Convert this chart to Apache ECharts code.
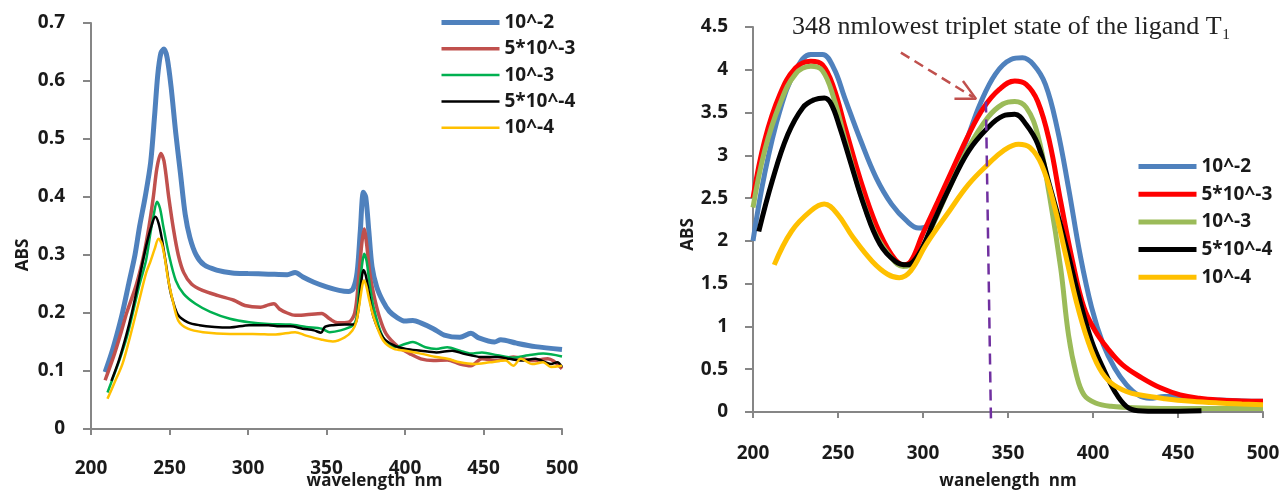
<!DOCTYPE html>
<html>
<head>
<meta charset="utf-8">
<script src="https://cdn.jsdelivr.net/npm/echarts@6/dist/echarts.min.js"></script>
<style>
  html, body { margin: 0; padding: 0; background: #ffffff; }
  #chart { width: 1284px; height: 491px; }
</style>
</head>
<body>
<div id="chart"></div>
<script>
// Concentration series names (shared by both panels)
const seriesNames = ['10^-2', '5*10^-3', '10^-3', '5*10^-4', '10^-4'];

// Wavelength axis range and tick step (nm)
const xMin = 200, xMax = 500, xStep = 50;
// ABS axis ranges
const leftYMax = 0.7, leftYStep = 0.1;
const rightYMax = 4.5, rightYStep = 0.5;

// Left panel: absorption spectra, [wavelength nm, ABS]
const leftA = [[209,0.098],[213,0.13],[216.6,0.164],[220,0.2],[224,0.25],[228,0.3],[231,0.35],[234.5,0.4],[238,0.46],[240.5,0.54],[242.5,0.61],[244.5,0.648],[246.5,0.655],[248.5,0.64],[251,0.59],[254,0.51],[257,0.44],[260,0.37],[263,0.33],[267,0.3],[272,0.283],[280,0.274],[290,0.269],[300,0.268],[313,0.267],[325,0.266],[330,0.27],[335,0.262],[342,0.253],[350,0.245],[358,0.239],[364,0.237],[367,0.242],[369.5,0.27],[371.5,0.34],[373.5,0.408],[375,0.4],[377,0.34],[379,0.28],[382,0.245],[386,0.22],[390,0.203],[395,0.192],[400,0.186],[405,0.187],[410,0.183],[418,0.173],[425,0.162],[435,0.158],[442,0.165],[447,0.157],[457,0.15],[461,0.154],[471,0.148],[483,0.142],[500,0.137]];
const leftB = [[209,0.084],[215,0.13],[219,0.165],[222.7,0.2],[229,0.25],[233.6,0.3],[237,0.35],[239.7,0.4],[242,0.45],[244.5,0.475],[246.5,0.462],[249.5,0.4],[252.5,0.345],[255.6,0.3],[259,0.27],[264,0.25],[271,0.239],[281,0.23],[291,0.222],[298,0.213],[308,0.21],[313,0.214],[316.5,0.216],[320,0.207],[325,0.2],[330,0.196],[337,0.197],[347,0.199],[352,0.19],[357,0.183],[364,0.184],[368,0.2],[370.5,0.26],[372.5,0.32],[374,0.345],[375.5,0.32],[377.5,0.27],[380,0.233],[383.5,0.195],[388,0.164],[396,0.141],[403,0.13],[410,0.121],[418,0.118],[427,0.119],[435,0.112],[442,0.109],[449,0.121],[459,0.118],[469,0.124],[481,0.118],[491,0.121],[500,0.104]];
const leftC = [[210.5,0.063],[218,0.118],[223,0.16],[227.5,0.21],[231,0.25],[235,0.29],[238,0.34],[240,0.37],[242,0.392],[244,0.38],[246,0.35],[249.5,0.302],[254,0.256],[259,0.233],[266.5,0.216],[276,0.202],[288.5,0.19],[300.7,0.184],[313,0.181],[327,0.18],[337,0.176],[347,0.173],[352,0.167],[359,0.17],[366.5,0.178],[369,0.19],[371,0.245],[373,0.29],[374,0.302],[375.5,0.29],[377,0.26],[380,0.21],[386,0.158],[393,0.141],[400.5,0.147],[405,0.15],[413,0.141],[420,0.138],[427,0.141],[435,0.135],[442,0.13],[449,0.132],[459,0.127],[469,0.123],[478.5,0.127],[488,0.13],[500,0.125]];
const leftD = [[213,0.083],[218,0.12],[222.7,0.164],[226,0.2],[230,0.25],[235,0.314],[238.5,0.35],[241,0.366],[243,0.355],[245,0.33],[248,0.28],[250,0.245],[252,0.222],[255.6,0.196],[261.7,0.184],[269,0.179],[278.7,0.176],[288.5,0.175],[300.7,0.179],[313,0.179],[320,0.177],[327,0.177],[334.8,0.173],[342,0.17],[346.5,0.166],[349,0.176],[354,0.179],[361.6,0.18],[367.7,0.18],[370,0.2],[372,0.25],[373.5,0.274],[375,0.265],[377,0.235],[380,0.193],[386,0.158],[393,0.144],[400.5,0.138],[410,0.135],[420,0.132],[430,0.135],[437,0.13],[442,0.127],[449,0.124],[459,0.124],[466.5,0.121],[473.7,0.118],[483,0.121],[493,0.112],[497,0.115],[500,0.107]];
const leftE = [[210.5,0.052],[215,0.08],[220,0.112],[224,0.15],[227.5,0.187],[231,0.225],[235,0.268],[238,0.29],[240.5,0.31],[243,0.328],[245,0.32],[247,0.295],[249,0.26],[252,0.222],[255.6,0.187],[261.7,0.173],[271.4,0.167],[288.5,0.164],[303,0.164],[317.7,0.163],[330,0.167],[337,0.161],[347,0.154],[354,0.151],[361.6,0.158],[366.5,0.17],[369,0.185],[371,0.216],[373,0.25],[374,0.256],[375.5,0.245],[377,0.225],[380,0.193],[386,0.153],[393,0.138],[400.5,0.135],[410,0.13],[420,0.124],[427,0.121],[435,0.115],[444,0.112],[454,0.115],[464,0.118],[469,0.109],[473.7,0.121],[481,0.112],[488,0.115],[493,0.107],[500,0.109]];

// Right panel: absorption spectra, [wavelength nm, ABS]
const rightA = [[200,2.0],[206.8,2.78],[215.8,3.52],[225,3.99],[234,4.18],[240.8,4.18],[247.5,4.02],[254,3.67],[263.4,3.17],[272.4,2.74],[281.5,2.43],[290.6,2.23],[297.4,2.15],[302,2.17],[308.7,2.39],[317.7,2.78],[326.8,3.24],[333.6,3.6],[342.6,3.95],[351.7,4.12],[358.5,4.14],[365,4.06],[372,3.83],[378.9,3.32],[385.6,2.62],[392.4,1.84],[399.2,1.22],[406,0.79],[412.8,0.51],[419.6,0.32],[426.4,0.2],[433.2,0.16],[442,0.18],[451,0.18],[462.6,0.14],[474,0.14],[487.5,0.13],[500,0.125]];
const rightB = [[200,2.5],[206.8,3.17],[215.8,3.71],[225,4.02],[234,4.1],[240.8,4.06],[247.5,3.79],[254.3,3.32],[263.4,2.7],[272.4,2.19],[281.5,1.84],[288.3,1.72],[292.8,1.76],[299.6,2.07],[308.7,2.46],[317.7,2.85],[326.8,3.24],[335.8,3.56],[344.9,3.77],[354,3.87],[360.7,3.83],[367.5,3.63],[374.3,3.17],[381,2.46],[388,1.76],[394.7,1.22],[401.5,0.94],[408.3,0.75],[417.4,0.55],[428.7,0.4],[440,0.28],[451.3,0.2],[462.6,0.16],[474,0.14],[487.5,0.13],[500,0.125]];
const rightC = [[200,2.39],[206.8,3.05],[215.8,3.6],[225,3.95],[234,4.04],[240.8,3.99],[247.5,3.67],[254.3,3.17],[263.4,2.54],[272.4,2.07],[281.5,1.8],[288.3,1.7],[295,1.76],[304,2.11],[315.5,2.62],[326.8,3.09],[338,3.44],[347,3.6],[354,3.63],[360.7,3.56],[367.5,3.24],[374.3,2.54],[381,1.68],[385.6,0.9],[390.2,0.44],[394.7,0.2],[401.5,0.105],[410.6,0.066],[428.7,0.047],[451.3,0.04],[474,0.04],[500,0.04]];
const rightD = [[203.4,2.11],[211.3,2.7],[220.4,3.24],[229.4,3.56],[236,3.65],[242,3.67],[246,3.6],[251,3.33],[256.6,2.97],[265.7,2.39],[274.7,1.96],[283.8,1.76],[290.6,1.72],[297.4,1.84],[306.4,2.23],[315.5,2.62],[326.8,3.05],[338,3.32],[347,3.46],[354,3.48],[360.7,3.36],[367.5,3.13],[374.3,2.66],[383.4,2.0],[392.4,1.29],[399.2,0.83],[406,0.51],[412.8,0.24],[419.6,0.066],[426.4,0.016],[440,0.01],[463.8,0.016]];
const rightE = [[212.5,1.72],[222.6,2.11],[234,2.35],[241.9,2.43],[249.8,2.31],[258.9,2.04],[270.2,1.76],[279.2,1.61],[286,1.57],[292.8,1.65],[301.9,1.96],[315.5,2.35],[326.8,2.66],[338,2.89],[347,3.05],[356.2,3.13],[363,3.09],[369.8,2.89],[376.6,2.46],[383.4,1.88],[390.2,1.29],[397,0.83],[403.8,0.51],[410.6,0.34],[419.6,0.24],[428.7,0.195],[442.3,0.156],[458,0.125],[474,0.105],[487.5,0.094],[500,0.086]];

// Annotation in the right panel (data units)
const t1Text = '348 nmlowest triplet state of the ligand T\u2081';
const t1Marker = [[337, 3.63], [340, -0.13]];          // vertical dashed marker
const arrowShaft = [[287, 4.2], [329.5, 3.68]];         // dashed pointer
const arrowHead = [[323.5, 3.87], [331.2, 3.66], [318.5, 3.66]];

const leftData = [leftA, leftB, leftC, leftD, leftE];
const rightData = [rightA, rightB, rightC, rightD, rightE];
const leftColors = ['#4F81BD', '#C0504D', '#00B050', '#000000', '#FFC000'];
const rightColors = ['#4F81BD', '#FF0000', '#9BBB59', '#000000', '#FFC000'];
const leftWidths = [5, 3.5, 2.5, 2.5, 2.5];
const rightWidths = [5, 5, 5, 5, 5];

const FONT = '"Open Sans", "Liberation Sans", sans-serif';
const AXIS_GREY = '#868686';
const LABEL_COLOR = '#1a1a1a';
const RIGHT_TAG = '\u200b'; // keeps right-panel series distinct from left ones

function xAxisCfg(gridIndex, name, nameGap, namePad, margin) {
  return {
    type: 'value', gridIndex, min: xMin, max: xMax, interval: xStep,
    name, nameLocation: 'middle', nameGap, nameMoveOverlap: false,
    nameTextStyle: { fontFamily: FONT, fontWeight: 'bold', fontSize: 17, color: LABEL_COLOR, padding: namePad },
    axisLine: { show: true, lineStyle: { color: AXIS_GREY, width: 2 } },
    axisTick: { show: true, inside: false, length: 6, lineStyle: { color: AXIS_GREY, width: 2 } },
    axisLabel: { fontFamily: FONT, fontWeight: 'bold', fontSize: 19, color: LABEL_COLOR, margin },
    splitLine: { show: false }
  };
}
function yAxisCfg(gridIndex, max, step, nameGap, namePad, margin) {
  return {
    type: 'value', gridIndex, min: 0, max, interval: step,
    name: 'ABS', nameLocation: 'middle', nameGap, nameMoveOverlap: false,
    nameTextStyle: { fontFamily: FONT, fontWeight: 'bold', fontSize: 17, color: LABEL_COLOR, padding: namePad },
    axisLine: { show: true, lineStyle: { color: AXIS_GREY, width: 2 } },
    axisTick: { show: true, inside: false, length: 8, lineStyle: { color: AXIS_GREY, width: 2 } },
    axisLabel: { fontFamily: FONT, fontWeight: 'bold', fontSize: 19, color: LABEL_COLOR, margin },
    splitLine: { show: false }
  };
}

const series = [];
leftData.forEach((d, i) => {
  series.push({
    name: seriesNames[i], type: 'line', xAxisIndex: 0, yAxisIndex: 0,
    data: d, smooth: 0.3, symbol: 'none', showSymbol: false,
    lineStyle: { color: leftColors[i], width: leftWidths[i] },
    itemStyle: { color: leftColors[i] }, emphasis: { disabled: true }, z: 2
  });
});
rightData.forEach((d, i) => {
  series.push({
    name: seriesNames[i] + RIGHT_TAG, type: 'line', xAxisIndex: 1, yAxisIndex: 1,
    data: d, smooth: 0.4, symbol: 'none', showSymbol: false,
    lineStyle: { color: rightColors[i], width: rightWidths[i] },
    itemStyle: { color: rightColors[i] }, emphasis: { disabled: true }, z: 2
  });
});
// triplet-state marker and pointer
series.push({
  type: 'line', xAxisIndex: 1, yAxisIndex: 1, data: t1Marker, symbol: 'none', clip: false,
  lineStyle: { color: '#7030A0', width: 2.5, type: [11, 7] }, emphasis: { disabled: true }, z: 5, silent: true
});
series.push({
  type: 'line', xAxisIndex: 1, yAxisIndex: 1, data: arrowShaft, symbol: 'none', clip: false,
  lineStyle: { color: '#C0504D', width: 2.5, type: [10, 6] }, emphasis: { disabled: true }, z: 5, silent: true
});
series.push({
  type: 'line', xAxisIndex: 1, yAxisIndex: 1, data: arrowHead, symbol: 'none', clip: false,
  lineStyle: { color: '#C0504D', width: 2.5 }, emphasis: { disabled: true }, z: 5, silent: true
});

const legendText = { fontFamily: FONT, fontWeight: 'bold', fontSize: 19, color: LABEL_COLOR, lineHeight: 21 };

const option = {
  animation: false,
  backgroundColor: '#ffffff',
  grid: [
    { left: 91, top: 23, width: 471, height: 406, outerBoundsMode: 'none' },
    { left: 753, top: 27, width: 510, height: 385, outerBoundsMode: 'none' }
  ],
  xAxis: [
    xAxisCfg(0, 'wavelength  nm', 44, [0, 0, 0, 96], 30),
    xAxisCfg(1, 'wanelength  nm', 61, [0, 0, 0, 0], 32)
  ],
  yAxis: [
    yAxisCfg(0, leftYMax, leftYStep, 59, [0, 58, 0, 0], 26),
    yAxisCfg(1, rightYMax, rightYStep, 56, [0, 30, 0, 0], 25)
  ],
  legend: [
    {
      orient: 'vertical', left: 439, top: 12, padding: 0,
      itemWidth: 58, itemHeight: 14, itemGap: 5.3,
      itemStyle: { opacity: 0 }, lineStyle: { width: 'inherit' },
      data: seriesNames, textStyle: legendText, selectedMode: false
    },
    {
      orient: 'vertical', left: 1136, top: 156, padding: 0,
      itemWidth: 58, itemHeight: 14, itemGap: 6.7,
      itemStyle: { opacity: 0 }, lineStyle: { width: 'inherit' },
      data: seriesNames.map(n => n + RIGHT_TAG), textStyle: legendText, selectedMode: false,
      formatter: n => n.replace(RIGHT_TAG, '')
    }
  ],
  graphic: [
    {
      type: 'text', left: 792, top: 14, silent: true,
      style: { text: t1Text, fontFamily: '"Liberation Serif", "Times New Roman", serif', fontSize: 26, fill: '#222222' }
    }
  ],
  series
};

const chart = echarts.init(document.getElementById('chart'), null, { renderer: 'canvas' });
chart.setOption(option);
</script>
</body>
</html>
